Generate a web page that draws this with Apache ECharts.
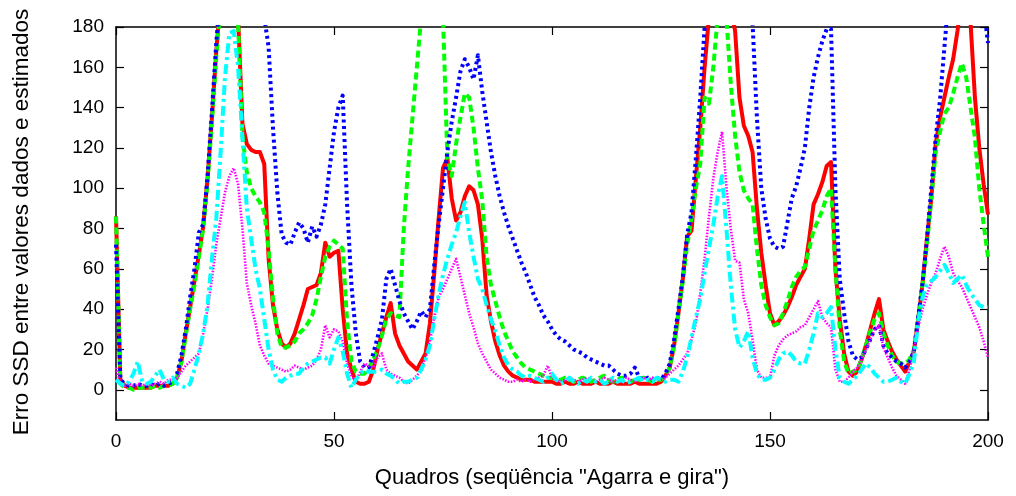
<!DOCTYPE html>
<html>
<head>
<meta charset="utf-8">
<script src="https://cdn.jsdelivr.net/npm/echarts@6/dist/echarts.min.js"></script>
<style>html,body{margin:0;padding:0;background:#fff}#c{width:1016px;height:496px}</style>
</head>
<body>
<div id="c"></div>
<script>
// frames 0..200
const frames = Array.from({length: 201}, (_, i) => i);
const xTicks = [0, 50, 100, 150, 200];
const yTicks = [0, 20, 40, 60, 80, 100, 120, 140, 160, 180];
const xTitle = 'Quadros (seqüência "Agarra e gira")';
const yTitle = 'Erro SSD entre valores dados e estimados';

const red = [
86,5,2,1,1,1,1,1,1,2,
2,2,2,3,6,14,28,41,54,67,
81,105,135,168,195,215,220,210,185,132,
122,119,118,118,112,65,42,30,23,21,
23,28,35,42,50,51,52,58,73,66,
68,69,40,18,10,4,3,3,4,10,
20,28,36,43,28,22,18,14,12,10,
14,18,33,58,85,110,115,95,84,88,
96,101,99,92,75,47,34,24,17,12,
9,7,6,5,5,5,4,4,4,4,
4,3,3,4,3,3,4,3,3,3,
4,3,3,3,4,3,3,3,3,4,
3,3,3,3,3,4,7,11,22,38,
55,76,79,105,130,160,185,200,205,205,
200,190,178,145,131,126,118,90,68,52,
38,32,34,37,41,46,52,56,60,75,
92,97,103,111,113,60,35,18,9,7,
9,15,22,30,38,45,30,24,19,15,
12,9,14,19,35,53,75,95,122,135,
145,155,164,178,195,195,182,145,120,102,
87];

const green = [
86,3,1,1,0,1,1,1,1,2,
1,2,2,3,6,14,27,40,52,66,
80,103,133,165,192,210,215,205,182,126,
108,100,96,93,88,70,45,28,21,21,
22,24,28,30,33,37,45,56,66,71,
74,72,70,34,14,9,8,8,11,15,
20,27,35,38,37,36,80,110,135,160,
185,200,205,205,200,185,115,106,122,135,
147,145,130,110,94,66,52,44,36,29,
24,19,16,13,11,10,9,8,7,6,
6,5,5,6,5,4,5,6,5,4,
5,6,7,5,4,5,6,5,4,5,
5,6,5,4,5,5,7,11,22,38,
54,72,85,100,112,145,142,160,185,200,
185,152,126,108,99,95,92,70,52,42,
36,32,33,38,44,51,56,59,61,70,
79,84,89,96,100,60,30,14,8,9,
10,15,22,29,35,38,28,22,17,14,
13,13,15,20,36,53,72,95,118,128,
137,140,147,155,162,155,140,125,100,82,
66];

const blue = [
72,5,3,2,2,3,2,2,3,2,
3,2,3,4,8,17,30,46,60,78,
82,106,138,172,200,215,220,220,215,210,
205,200,195,190,185,170,130,98,77,73,
72,78,83,80,73,81,76,82,92,110,
128,140,146,92,52,28,14,11,11,18,
26,35,55,60,52,44,38,34,30,34,
39,36,40,62,82,100,118,133,145,158,
164,160,154,166,148,133,118,106,96,88,
81,75,69,63,58,52,46,42,37,34,
30,27,25,24,22,20,19,18,16,15,
14,13,12,12,10,8,7,7,8,11,
6,5,6,5,6,5,8,13,25,40,
56,77,88,115,145,180,205,215,220,220,
220,215,210,205,200,190,182,135,100,85,
75,71,70,71,83,95,101,110,120,140,
155,165,173,179,179,100,55,38,24,17,
15,16,20,25,30,32,22,18,16,14,
13,11,14,19,36,53,75,100,125,144,
170,195,210,215,215,215,210,205,195,190,
172];

const magenta = [
11,3,2,3,2,3,2,3,2,3,
4,3,5,5,6,9,12,14,16,18,
28,40,55,72,85,98,106,110,102,80,
53,42,33,22,17,13,12,11,10,9,
10,12,11,10,11,12,15,20,32,26,
30,29,24,13,7,4,9,13,12,11,
16,18,10,8,7,6,4,3,5,7,
10,16,24,36,46,50,55,60,65,56,
47,38,31,23,18,14,10,8,6,5,
4,4,5,4,5,4,5,6,7,12,
6,5,4,5,6,5,4,5,6,5,
4,5,6,5,4,5,4,6,5,4,
5,6,5,6,5,5,6,8,10,12,
15,18,25,33,48,65,86,105,118,128,
101,80,64,63,45,38,25,10,6,6,
6,17,22,25,27,28,29,31,32,36,
40,44,36,33,31,10,4,4,6,9,
11,15,20,25,30,32,21,16,11,7,
5,3,10,20,31,40,47,53,58,65,
71,66,58,54,51,46,41,36,31,24,
16];

const cyan = [
5,3,2,4,8,14,4,3,4,7,
10,5,4,6,3,2,1,3,10,18,
28,42,65,85,118,155,177,178,160,125,
90,75,60,50,35,20,10,5,4,6,
7,8,8,11,13,14,15,16,16,13,
20,26,19,8,1,5,8,10,9,9,
9,10,8,7,5,3,4,4,5,6,
10,15,22,35,47,57,65,72,78,86,
93,78,66,55,50,42,35,29,22,16,
12,10,9,7,6,7,6,5,4,6,
8,5,3,4,6,4,3,5,4,6,
4,5,3,4,6,4,5,3,4,5,
6,4,5,4,6,5,4,5,5,4,
9,16,26,36,45,58,70,82,96,106,
80,52,30,21,24,29,16,8,5,5,
6,10,15,18,19,17,14,13,13,20,
28,38,36,38,41,20,6,4,3,5,
7,10,13,11,8,6,4,4,5,6,
4,3,8,14,34,46,52,54,56,59,
62,58,53,55,57,52,48,45,42,41,
41];

const pairs = arr => frames.map((f, i) => [f, arr[i]]);
const FONT = 'Liberation Sans';

const styles = [
  {data: red, color: '#ff0000', width: 4, type: 'solid'},
  {data: green, color: '#00ff00', width: 4, type: [7, 4]},
  {data: blue, color: '#0000ff', width: 4, type: [3, 3.5]},
  {data: magenta, color: '#ff00ff', width: 2.6, type: [1.5, 1.5]},
  {data: cyan, color: '#00ffff', width: 4, type: [10, 4, 3, 4]}
];

const axisCommonX = {
  type: 'value', min: 0, max: 200, interval: 50,
  axisLine: {show: true, onZero: false, lineStyle: {color: '#000', width: 1.5}},
  axisTick: {show: true, inside: true, length: 8, lineStyle: {color: '#000', width: 1.2}},
  splitLine: {show: false}
};
const axisCommonY = {
  type: 'value', min: -15, max: 180,
  axisLine: {show: true, onZero: false, lineStyle: {color: '#000', width: 1.5}},
  axisTick: {show: true, inside: true, length: 8, customValues: yTicks, lineStyle: {color: '#000', width: 1.2}},
  splitLine: {show: false}
};

const chart = echarts.init(document.getElementById('c'), null, {renderer: 'canvas'});
chart.setOption({
  animation: false,
  backgroundColor: '#fff',
  grid: {left: 116, right: 28, top: 27, bottom: 76, containLabel: false},
  xAxis: [
    Object.assign({}, axisCommonX, {position: 'bottom',
      axisLabel: {show: true, customValues: xTicks, fontFamily: FONT, fontSize: 19, color: '#000', margin: 12}}),
    Object.assign({}, axisCommonX, {position: 'top', axisLabel: {show: false}})
  ],
  yAxis: [
    Object.assign({}, axisCommonY, {position: 'left',
      axisLabel: {show: true, customValues: yTicks, fontFamily: FONT, fontSize: 19, color: '#000', margin: 12}}),
    Object.assign({}, axisCommonY, {position: 'right', axisLabel: {show: false}})
  ],
  graphic: [
    {type: 'text', x: 552, y: 478,
      style: {text: xTitle, font: '22px "Liberation Sans"', fill: '#000', align: 'center', verticalAlign: 'middle'}},
    {type: 'text', x: 22, y: 222, rotation: Math.PI / 2,
      style: {text: yTitle, font: '22.5px "Liberation Sans"', fill: '#000', align: 'center', verticalAlign: 'middle'}}
  ],
  series: styles.map(s => ({
    type: 'line',
    data: pairs(s.data),
    xAxisIndex: 0, yAxisIndex: 0,
    symbol: 'none',
    clip: true,
    lineStyle: {color: s.color, width: s.width, type: s.type, join: 'round'},
    emphasis: {disabled: true}
  }))
});
</script>
</body>
</html>
